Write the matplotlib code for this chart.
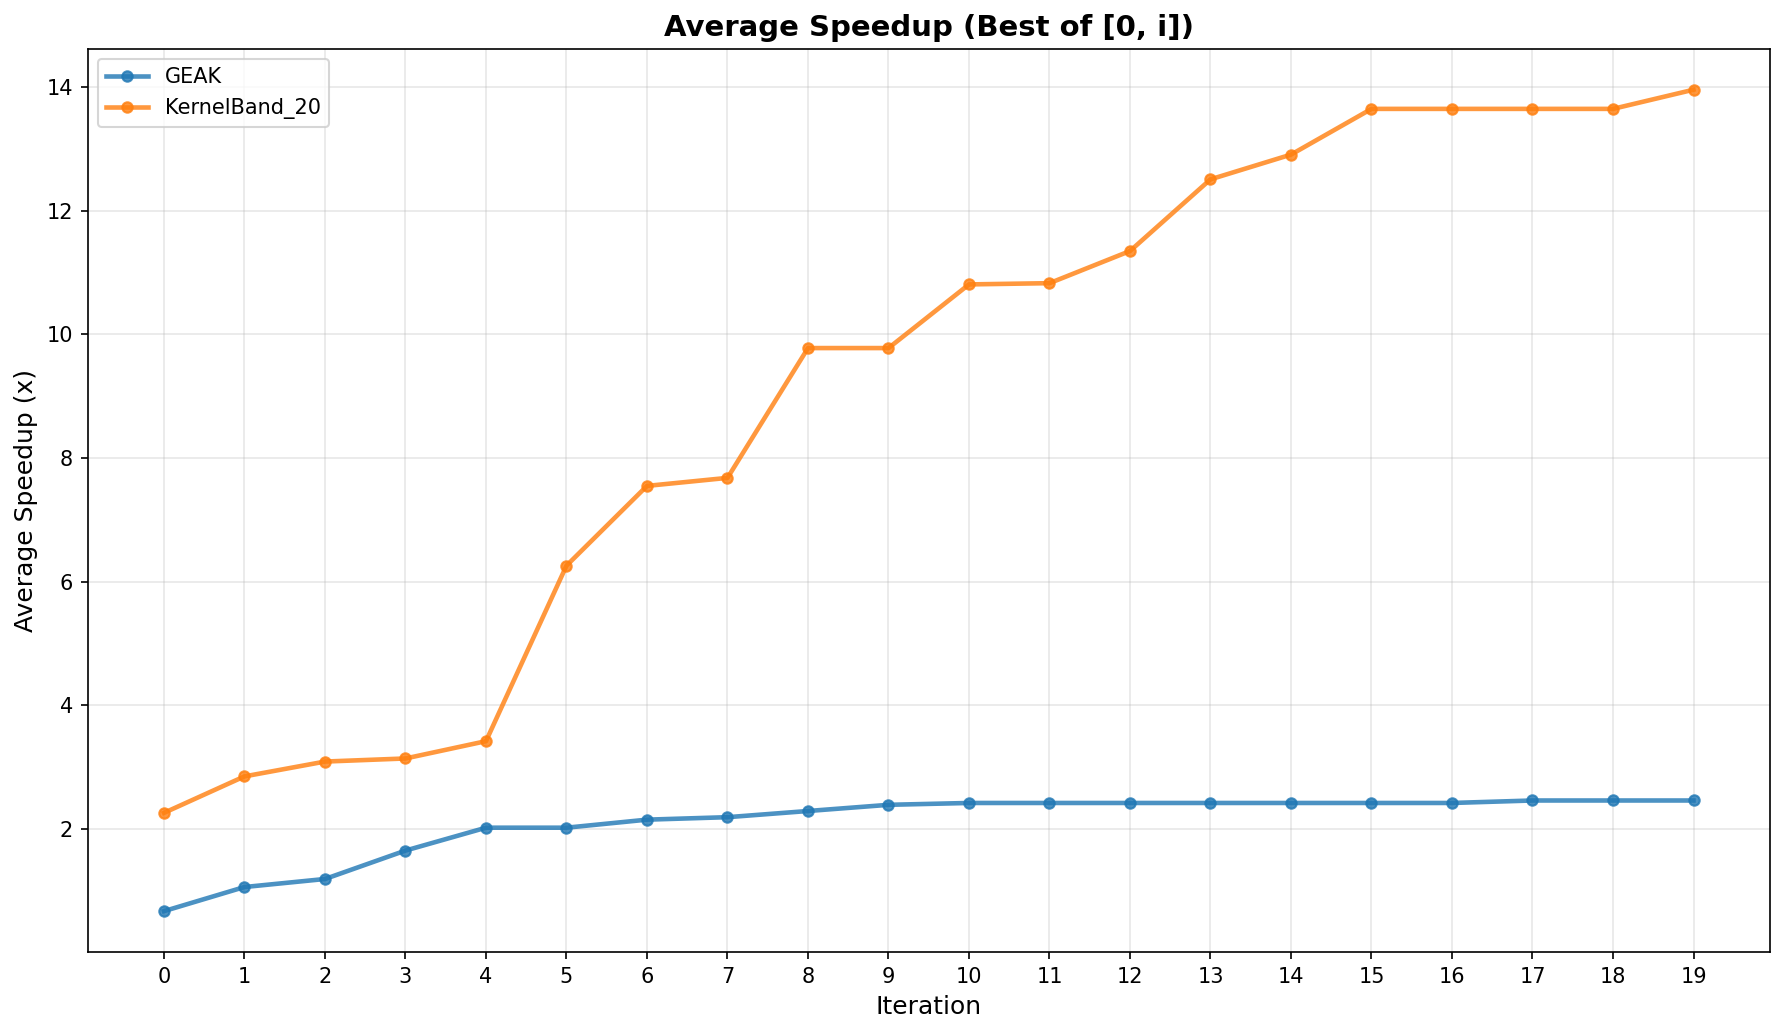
import matplotlib
matplotlib.use("Agg")
import matplotlib.pyplot as plt

iterations = list(range(20))
geak = [0.67, 1.06, 1.19, 1.65, 2.02, 2.02, 2.15, 2.19, 2.29, 2.39,
        2.42, 2.42, 2.42, 2.42, 2.42, 2.42, 2.42, 2.46, 2.46, 2.46]
kernelband = [2.26, 2.85, 3.09, 3.14, 3.42, 6.26, 7.55, 7.68, 9.78, 9.78,
              10.81, 10.83, 11.35, 12.51, 12.91, 13.65, 13.65, 13.65, 13.65, 13.96]

fig, ax = plt.subplots(figsize=(11.907, 6.9), dpi=150)
ax.plot(iterations, geak, marker="o", linewidth=2.2, markersize=5, alpha=0.8, label="GEAK")
ax.plot(iterations, kernelband, marker="o", linewidth=2.2, markersize=5, alpha=0.8, label="KernelBand_20")

ax.set_title("Average Speedup (Best of [0, i])", fontsize=14, fontweight="bold")
ax.set_xlabel("Iteration", fontsize=12)
ax.set_ylabel("Average Speedup (x)", fontsize=12)
ax.set_xticks(iterations)
ax.grid(True, alpha=0.3)
ax.legend(loc="upper left")

plt.subplots_adjust(left=0.049, right=0.991, top=0.953, bottom=0.080)
plt.savefig("out.png", dpi=150)
